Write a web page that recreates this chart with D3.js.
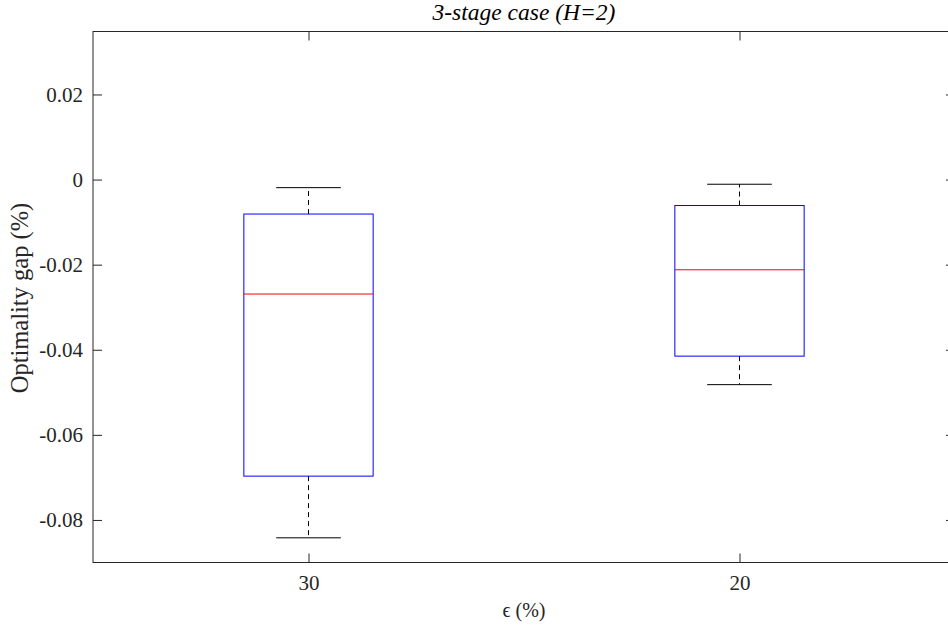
<!DOCTYPE html>
<html>
<head>
<meta charset="utf-8">
<script src="https://cdn.jsdelivr.net/npm/d3@7"></script>
<style>
  body { margin: 0; background: #fff; }
</style>
</head>
<body>
<div id="chart"></div>
<script>
// box plot stats, one entry per category
const categories = ['30', '20'];
const whiskerLow = [-0.0842, -0.0482];
const q1 = [-0.0697, -0.0415];
const median = [-0.0269, -0.0212];
const q3 = [-0.0081, -0.0061];
const whiskerHigh = [-0.0019, -0.0011];
const yTicks = [-0.08, -0.06, -0.04, -0.02, 0, 0.02];

const FONT = "'Liberation Serif', 'Times New Roman', Times, serif";
const width = 948, height = 630;
const margin = {left: 93, top: 31.5, right: -7, bottom: 67.5};
const plotW = width - margin.left - margin.right,
      plotH = height - margin.top - margin.bottom;

const x = d3.scaleLinear().domain([0.5, 2.5]).range([0, plotW]);
const y = d3.scaleLinear().domain([-0.09, 0.0348]).range([plotH, 0]);

const svg = d3.select('#chart').append('svg').attr('width', width).attr('height', height)
  .attr('font-family', FONT);
const g = svg.append('g').attr('transform', 'translate(' + margin.left + ',' + margin.top + ')');

const fmt = d => d === 0 ? '0' : d.toFixed(2);
const tickLen = 9;

// axes with inward ticks, MATLAB box style
g.append('g').attr('class', 'axis y')
  .call(d3.axisLeft(y).tickValues(yTicks).tickFormat(fmt).tickSizeInner(-tickLen).tickSizeOuter(0).tickPadding(10));
g.append('g').attr('transform', 'translate(' + plotW + ',0)')
  .call(d3.axisRight(y).tickValues(yTicks).tickFormat('').tickSizeInner(-tickLen).tickSizeOuter(0));
g.append('g').attr('class', 'axis x').attr('transform', 'translate(0,' + plotH + ')')
  .call(d3.axisBottom(x).tickValues([1, 2]).tickFormat((d, i) => categories[i]).tickSizeInner(-tickLen).tickSizeOuter(0).tickPadding(13));
g.append('g')
  .call(d3.axisTop(x).tickValues([1, 2]).tickFormat('').tickSizeInner(-tickLen).tickSizeOuter(0));
g.append('rect').attr('width', plotW).attr('height', plotH)
  .attr('fill', 'none').attr('stroke', '#262626').attr('stroke-width', 1);

// d3 axes set their own font; put the serif face back
g.selectAll('g').attr('font-family', FONT).attr('font-size', 21);
svg.selectAll('.domain').remove();
svg.selectAll('.tick line').attr('stroke', '#262626');
svg.selectAll('.tick text').attr('fill', '#262626');

const boxW = 0.3;
const boxes = g.selectAll('.box').data(categories).enter().append('g').attr('class', 'box');

// whiskers
boxes.append('line')
  .attr('x1', (d, i) => x(i + 1)).attr('x2', (d, i) => x(i + 1))
  .attr('y1', (d, i) => y(q3[i])).attr('y2', (d, i) => y(whiskerHigh[i]))
  .attr('stroke', '#000').attr('stroke-dasharray', '5,4');
boxes.append('line')
  .attr('x1', (d, i) => x(i + 1)).attr('x2', (d, i) => x(i + 1))
  .attr('y1', (d, i) => y(q1[i])).attr('y2', (d, i) => y(whiskerLow[i]))
  .attr('stroke', '#000').attr('stroke-dasharray', '5,4');
// caps
boxes.append('line')
  .attr('x1', (d, i) => x(i + 1 - boxW / 4)).attr('x2', (d, i) => x(i + 1 + boxW / 4))
  .attr('y1', (d, i) => y(whiskerHigh[i])).attr('y2', (d, i) => y(whiskerHigh[i]))
  .attr('stroke', '#000');
boxes.append('line')
  .attr('x1', (d, i) => x(i + 1 - boxW / 4)).attr('x2', (d, i) => x(i + 1 + boxW / 4))
  .attr('y1', (d, i) => y(whiskerLow[i])).attr('y2', (d, i) => y(whiskerLow[i]))
  .attr('stroke', '#000');
// box
boxes.append('rect')
  .attr('x', (d, i) => x(i + 1 - boxW / 2))
  .attr('width', x(boxW) - x(0))
  .attr('y', (d, i) => y(q3[i]))
  .attr('height', (d, i) => y(q1[i]) - y(q3[i]))
  .attr('fill', 'none').attr('stroke', '#0000ff');
// median
boxes.append('line')
  .attr('x1', (d, i) => x(i + 1 - boxW / 2)).attr('x2', (d, i) => x(i + 1 + boxW / 2))
  .attr('y1', (d, i) => y(median[i])).attr('y2', (d, i) => y(median[i]))
  .attr('stroke', '#ff0000');

// labels
svg.append('text').attr('x', margin.left + plotW / 2).attr('y', 20)
  .attr('text-anchor', 'middle').attr('font-size', 23.5).attr('font-style', 'italic')
  .attr('fill', '#000').text('3-stage case (H=2)');
svg.append('text').attr('x', margin.left + plotW / 2).attr('y', 617)
  .attr('text-anchor', 'middle').attr('font-size', 20).attr('fill', '#262626').text('ϵ (%)');
svg.append('text').attr('transform', 'translate(28,' + (margin.top + plotH / 2 + 1) + ') rotate(-90)')
  .attr('text-anchor', 'middle').attr('font-size', 24.5).attr('fill', '#262626').text('Optimality gap (%)');
</script>
</body>
</html>
